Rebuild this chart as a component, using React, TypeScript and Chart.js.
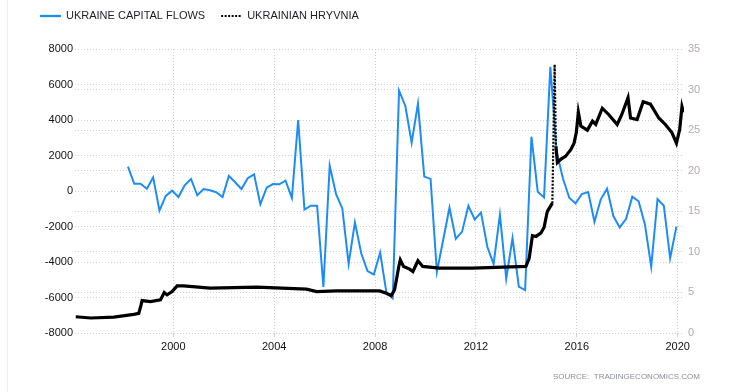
import React, { useEffect, useRef } from "react";
import { Chart, registerables } from "chart.js";

Chart.register(...registerables);

// ---- Data ----
const FLOW_FIRST_QUARTER = 1998.2; // decimal year of the first quarterly observation
const capitalFlows = [
  1370, 410, 410, 130, 770, -1110, -280, 20, -340, 320, 680, -240, 110, 40, -70, -340,
  850, 490, 110, 720, 940, -750, 190, 390, 380, 580, -390, 4000, -1050, -830, -830, -5410,
  1430, -170, -980, -4110, -1770, -3510, -4510, -4700, -3470, -5730, -6050, 5650, 4790, 2720,
  4920, 810, 680, -4560, -2760, -940, -2700, -2290, -830, -1600, -1220, -3140, -4110, -1330,
  -4940, -2650, -5390, -5580, 3060, -40, -360, 7000, 2200, 700, -380, -700, -170, -60,
  -1730, -470, 130, -1410, -2050, -1580, -320, -580, -1880, -4260, -450, -830, -3790, -2010,
];

const hryvniaYears = [
  1996.13, 1996.72, 1997.64, 1998.43, 1998.63, 1998.72, 1998.76, 1999.09, 1999.49, 1999.64,
  1999.75, 1999.95, 2000.15, 2000.41, 2001.46, 2003.31, 2005.28, 2005.68, 2006.47, 2008.18,
  2008.45, 2008.64, 2008.77, 2008.87, 2008.94, 2009.0, 2009.13, 2009.37, 2009.5, 2009.7,
  2009.89, 2010.55, 2011.87, 2013.98, 2014.11, 2014.24, 2014.38, 2014.57, 2014.7, 2014.83,
  2015.03, 2015.12, 2015.17, 2015.23, 2015.36, 2015.56, 2015.76, 2015.89, 2015.98, 2016.06,
  2016.16, 2016.42, 2016.62, 2016.75, 2017.01, 2017.27, 2017.6, 2017.78, 2018.03, 2018.13,
  2018.39, 2018.63, 2018.92, 2019.25, 2019.51, 2019.77, 2019.95, 2020.08, 2020.17, 2020.23,
];
const hryvniaValues = [
  2.0, 1.85, 1.95, 2.3, 2.43, 3.46, 4.0, 3.87, 4.08, 4.98,
  4.7, 5.1, 5.81, 5.8, 5.52, 5.65, 5.4, 5.1, 5.19, 5.19,
  4.9, 4.6, 5.3, 6.96, 8.2, 9.0, 8.2, 7.87, 7.58, 8.9,
  8.2, 8.0, 8.0, 8.2, 9.2, 12.0, 11.9, 12.3, 13.0, 15.0,
  16.0, 33.1, 23.0, 21.0, 21.4, 21.8, 22.6, 23.4, 24.7, 27.2,
  25.5, 25.0, 26.1, 25.7, 27.7, 26.9, 25.7, 26.9, 29.0, 26.5,
  26.3, 28.5, 28.2, 26.5, 25.7, 24.7, 23.4, 25.1, 27.9, 27.2,
];

const yearTicks = [2000, 2004, 2008, 2012, 2016, 2020];
const seriesLabels = ["UKRAINE CAPITAL FLOWS", "UKRAINIAN HRYVNIA"];
const sourceText = "SOURCE:  TRADINGECONOMICS.COM";

const FONT = "'Liberation Sans', Arial, Helvetica, sans-serif";
const BLUE = "#1e8cf5";

const overlayPlugin = {
  id: "overlay",
  afterDraw(chart: any) {
    const ctx = chart.ctx as CanvasRenderingContext2D;
    ctx.save();
    ctx.font = `11px ${FONT}`;
    ctx.textBaseline = "middle";
    let x = 40;
    const y = 16;
    [0, 1].forEach((i) => {
      const ds = chart.data.datasets[i];
      ctx.beginPath();
      ctx.strokeStyle = ds.borderColor;
      ctx.lineWidth = i === 0 ? 2.3 : 2.2;
      ctx.setLineDash(i === 0 ? [] : [2, 1.5]);
      ctx.moveTo(x, y);
      ctx.lineTo(x + 21, y);
      ctx.stroke();
      ctx.setLineDash([]);
      ctx.fillStyle = "#1c1c2a";
      ctx.textAlign = "left";
      ctx.fillText(ds.label, x + 26, y);
      x += 26 + ctx.measureText(ds.label).width + 16;
    });
    ctx.font = `8px ${FONT}`;
    ctx.fillStyle = "#8a8f96";
    ctx.textAlign = "right";
    ctx.fillText(sourceText, 700, 377);
    ctx.restore();
  },
};

export default function App() {
  const canvasRef = useRef<HTMLCanvasElement | null>(null);

  useEffect(() => {
    document.body.style.margin = "0";
    const canvas = canvasRef.current;
    if (!canvas) return;

    const flowPoints = capitalFlows.map((v, i) => ({ x: FLOW_FIRST_QUARTER + i / 4, y: v }));
    const hrvPoints = hryvniaYears.map((yr, i) => ({ x: yr, y: hryvniaValues[i] }));

    const steep = (c: any) => Math.abs(c.p1.y - c.p0.y) > 40;

    const gridColor = "#cfcfcf";

    const chart = new Chart(canvas, {
      type: "line",
      data: {
        datasets: [
          {
            label: seriesLabels[0],
            data: flowPoints,
            yAxisID: "y",
            borderColor: BLUE,
            borderWidth: 2,
            pointRadius: 0,
            tension: 0,
            order: 1,
          },
          {
            label: seriesLabels[1],
            data: hrvPoints,
            yAxisID: "y1",
            borderColor: "#000000",
            borderWidth: 3.2,
            pointRadius: 0,
            tension: 0,
            order: 0,
            segment: {
              borderDash: (c: any) => (steep(c) ? [2, 1.5] : undefined),
              borderWidth: (c: any) => (steep(c) ? 2.2 : undefined),
            },
          },
        ],
      },
      options: {
        responsive: false,
        maintainAspectRatio: false,
        animation: false,
        font: { family: FONT, size: 11 },
        layout: { padding: { left: 0, right: 0, top: 49, bottom: 0 } },
        plugins: {
          legend: { display: false },
          tooltip: { enabled: false },
        },
        scales: {
          x: {
            type: "linear",
            min: 1996.1,
            max: 2020.25,
            afterBuildTicks: (s: any) => {
              s.ticks = yearTicks.map((v) => ({ value: v }));
            },
            afterFit: (s: any) => {
              s.height = 59;
            },
            grid: { color: gridColor, drawTicks: true, tickLength: 4 },
            border: { display: false, dash: [1, 2] },
            ticks: {
              color: "#111",
              font: { family: FONT, size: 11 },
              padding: 3,
              maxRotation: 0,
              callback: (v: any) => String(v),
            },
          },
          y: {
            type: "linear",
            position: "left",
            min: -8000,
            max: 8000,
            afterFit: (s: any) => {
              s.width = 75;
            },
            grid: { color: gridColor, drawTicks: false },
            border: { display: false, dash: [1, 2] },
            ticks: {
              stepSize: 2000,
              color: "#111",
              padding: 2,
              font: { family: FONT, size: 11 },
              callback: (v: any) => String(v),
            },
          },
          y1: {
            type: "linear",
            position: "right",
            min: 0,
            max: 35,
            afterFit: (s: any) => {
              s.width = 51;
            },
            grid: { color: gridColor, drawTicks: false },
            border: { display: false, dash: [1, 2] },
            ticks: {
              stepSize: 5,
              color: "#b5aaaa",
              padding: 4,
              font: { family: FONT, size: 11 },
              callback: (v: any) => String(v),
            },
          },
        },
      },
      plugins: [overlayPlugin],
    } as any);

    return () => chart.destroy();
  }, []);

  return (
    <div style={{ position: "relative", width: 735, height: 392, background: "#fff" }}>
      <div
        style={{
          position: "absolute",
          left: 7,
          top: 0,
          width: 1,
          height: 392,
          background: "#efefef",
        }}
      />
      <canvas ref={canvasRef} width={735} height={392} style={{ display: "block" }} />
    </div>
  );
}
